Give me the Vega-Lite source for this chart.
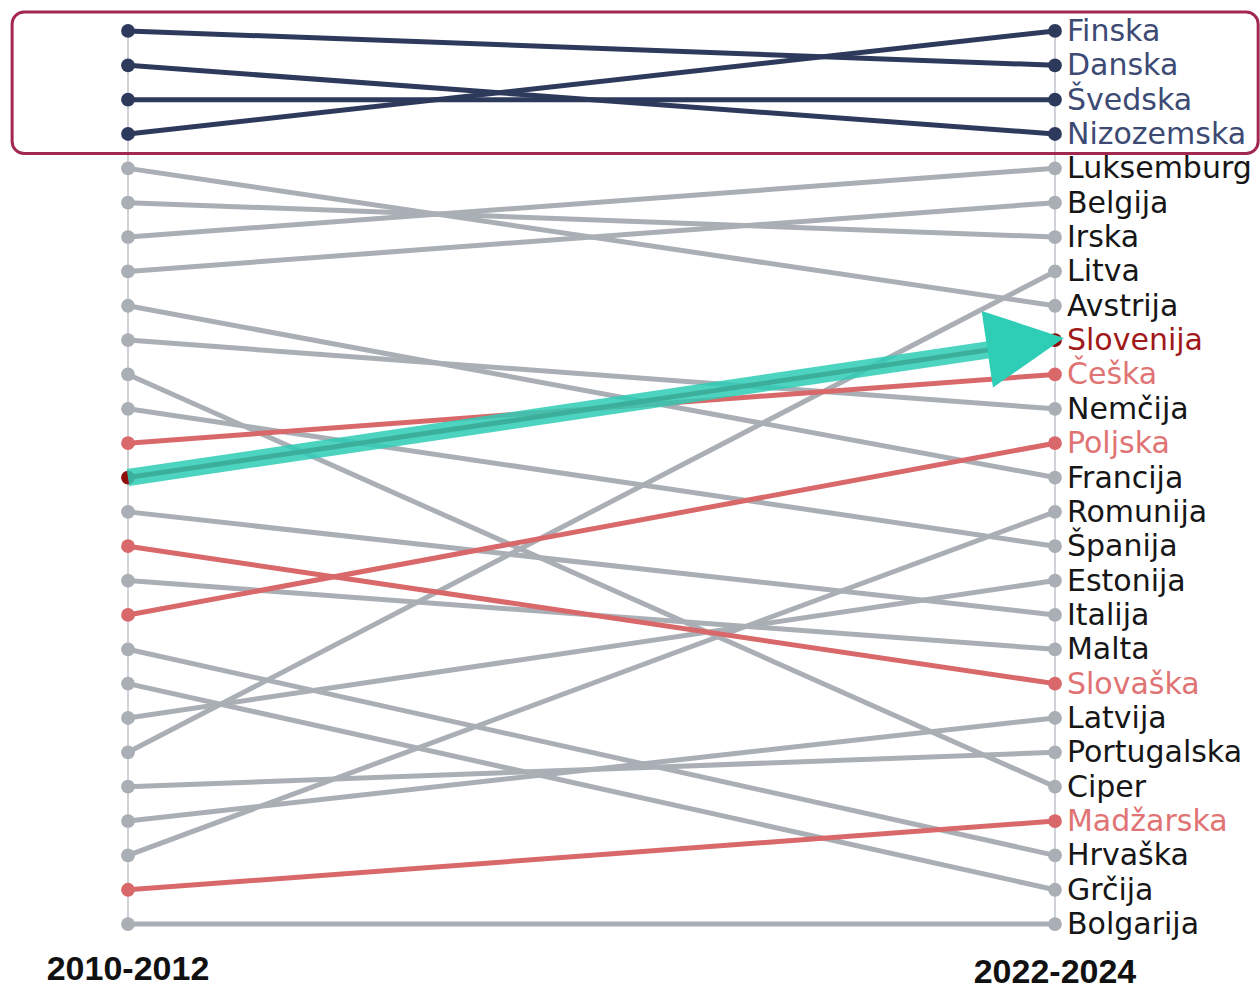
{
  "$schema": "https://vega.github.io/schema/vega-lite/v6.json",
  "width": 1260,
  "height": 990,
  "autosize": {"type": "fit", "contains": "padding"},
  "padding": 0,
  "background": "white",
  "config": {"view": {"stroke": null}},
  "datasets": {
    "ranks": [
      {"country": "Finska", "group": "top", "year": 2011, "rank": 4},
      {"country": "Finska", "group": "top", "year": 2023, "rank": 1},
      {"country": "Danska", "group": "top", "year": 2011, "rank": 1},
      {"country": "Danska", "group": "top", "year": 2023, "rank": 2},
      {"country": "Švedska", "group": "top", "year": 2011, "rank": 3},
      {"country": "Švedska", "group": "top", "year": 2023, "rank": 3},
      {"country": "Nizozemska", "group": "top", "year": 2011, "rank": 2},
      {"country": "Nizozemska", "group": "top", "year": 2023, "rank": 4},
      {"country": "Luksemburg", "group": "other", "year": 2011, "rank": 7},
      {"country": "Luksemburg", "group": "other", "year": 2023, "rank": 5},
      {"country": "Belgija", "group": "other", "year": 2011, "rank": 8},
      {"country": "Belgija", "group": "other", "year": 2023, "rank": 6},
      {"country": "Irska", "group": "other", "year": 2011, "rank": 6},
      {"country": "Irska", "group": "other", "year": 2023, "rank": 7},
      {"country": "Litva", "group": "other", "year": 2011, "rank": 22},
      {"country": "Litva", "group": "other", "year": 2023, "rank": 8},
      {"country": "Avstrija", "group": "other", "year": 2011, "rank": 5},
      {"country": "Avstrija", "group": "other", "year": 2023, "rank": 9},
      {"country": "Nemčija", "group": "other", "year": 2011, "rank": 10},
      {"country": "Nemčija", "group": "other", "year": 2023, "rank": 12},
      {"country": "Francija", "group": "other", "year": 2011, "rank": 9},
      {"country": "Francija", "group": "other", "year": 2023, "rank": 14},
      {"country": "Romunija", "group": "other", "year": 2011, "rank": 25},
      {"country": "Romunija", "group": "other", "year": 2023, "rank": 15},
      {"country": "Španija", "group": "other", "year": 2011, "rank": 12},
      {"country": "Španija", "group": "other", "year": 2023, "rank": 16},
      {"country": "Estonija", "group": "other", "year": 2011, "rank": 21},
      {"country": "Estonija", "group": "other", "year": 2023, "rank": 17},
      {"country": "Italija", "group": "other", "year": 2011, "rank": 15},
      {"country": "Italija", "group": "other", "year": 2023, "rank": 18},
      {"country": "Malta", "group": "other", "year": 2011, "rank": 17},
      {"country": "Malta", "group": "other", "year": 2023, "rank": 19},
      {"country": "Latvija", "group": "other", "year": 2011, "rank": 24},
      {"country": "Latvija", "group": "other", "year": 2023, "rank": 21},
      {"country": "Portugalska", "group": "other", "year": 2011, "rank": 23},
      {"country": "Portugalska", "group": "other", "year": 2023, "rank": 22},
      {"country": "Ciper", "group": "other", "year": 2011, "rank": 11},
      {"country": "Ciper", "group": "other", "year": 2023, "rank": 23},
      {"country": "Hrvaška", "group": "other", "year": 2011, "rank": 19},
      {"country": "Hrvaška", "group": "other", "year": 2023, "rank": 25},
      {"country": "Grčija", "group": "other", "year": 2011, "rank": 20},
      {"country": "Grčija", "group": "other", "year": 2023, "rank": 26},
      {"country": "Bolgarija", "group": "other", "year": 2011, "rank": 27},
      {"country": "Bolgarija", "group": "other", "year": 2023, "rank": 27},
      {"country": "Češka", "group": "peer", "year": 2011, "rank": 13},
      {"country": "Češka", "group": "peer", "year": 2023, "rank": 11},
      {"country": "Poljska", "group": "peer", "year": 2011, "rank": 18},
      {"country": "Poljska", "group": "peer", "year": 2023, "rank": 13},
      {"country": "Slovaška", "group": "peer", "year": 2011, "rank": 16},
      {"country": "Slovaška", "group": "peer", "year": 2023, "rank": 20},
      {"country": "Madžarska", "group": "peer", "year": 2011, "rank": 26},
      {"country": "Madžarska", "group": "peer", "year": 2023, "rank": 24},
      {"country": "Slovenija", "group": "slo", "year": 2011, "rank": 14},
      {"country": "Slovenija", "group": "slo", "year": 2023, "rank": 10}
    ],
    "axes": [
      {"year": 2011, "top": 1, "bottom": 27},
      {"year": 2023, "top": 1, "bottom": 27}
    ],
    "periods": [
      {"year": 2011, "label": "2010-2012", "pos": 28.33},
      {"year": 2023, "label": "2022-2024", "pos": 28.42}
    ],
    "arrow": [
      {"year": 2011, "rank": 14},
      {"year": 2022.3, "rank": 10.23}
    ],
    "arrowhead": [
      {"year": 2022.62, "rank": 10.1}
    ],
    "box": [
      {"x1": 2009.5, "x2": 2025.63, "y1": 0.45, "y2": 4.57}
    ]
  },
  "layer": [
    {
      "data": {"name": "axes"},
      "mark": {"type": "rule", "color": "#cfd2d6", "strokeWidth": 2},
      "encoding": {
        "x": {"field": "year", "type": "quantitative", "scale": {"domain": [2009.343, 2025.654], "nice": false, "zero": false}, "axis": null},
        "y": {"field": "top", "type": "quantitative", "scale": {"domain": [0.0994, 28.86], "reverse": true, "nice": false, "zero": false}, "axis": null},
        "y2": {"field": "bottom"}
      }
    },
    {
      "data": {"name": "ranks"},
      "mark": {"type": "line", "strokeWidth": 5},
      "encoding": {
        "x": {"field": "year", "type": "quantitative"},
        "y": {"field": "rank", "type": "quantitative"},
        "detail": {"field": "country"},
        "color": {"field": "group", "type": "nominal", "scale": {"domain": ["other", "peer", "top", "slo"], "range": ["#a9afb5", "#d9686a", "#2e3a5c", "#8e0d0d"]}, "legend": null}
      }
    },
    {
      "data": {"name": "ranks"},
      "mark": {"type": "point", "filled": true, "size": 190, "opacity": 1},
      "encoding": {
        "x": {"field": "year", "type": "quantitative"},
        "y": {"field": "rank", "type": "quantitative"},
        "color": {"field": "group", "type": "nominal", "legend": null}
      }
    },
    {
      "data": {"name": "box"},
      "mark": {"type": "rect", "fill": null, "stroke": "#a3284f", "strokeWidth": 3, "cornerRadius": 12},
      "encoding": {
        "x": {"field": "x1", "type": "quantitative"},
        "x2": {"field": "x2"},
        "y": {"field": "y1", "type": "quantitative"},
        "y2": {"field": "y2"}
      }
    },
    {
      "data": {"name": "arrow"},
      "mark": {"type": "line", "strokeWidth": 17, "color": "#2ecdb6", "opacity": 0.85, "strokeCap": "butt"},
      "encoding": {
        "x": {"field": "year", "type": "quantitative"},
        "y": {"field": "rank", "type": "quantitative"}
      }
    },
    {
      "data": {"name": "arrowhead"},
      "mark": {"type": "point", "shape": "M-1,-1L1,0L-1,1Z", "filled": true, "size": 6000, "angle": 351.6, "color": "#2ecdb6", "opacity": 1},
      "encoding": {
        "x": {"field": "year", "type": "quantitative"},
        "y": {"field": "rank", "type": "quantitative"}
      }
    },
    {
      "data": {"name": "ranks"},
      "transform": [{"filter": "datum.year == 2023"}],
      "mark": {"type": "text", "align": "left", "baseline": "middle", "dx": 12, "dy": 1, "font": "DejaVu Sans", "fontSize": 30},
      "encoding": {
        "x": {"field": "year", "type": "quantitative"},
        "y": {"field": "rank", "type": "quantitative"},
        "text": {"field": "country"},
        "fill": {"field": "group", "type": "nominal", "scale": {"domain": ["other", "peer", "top", "slo"], "range": ["#161616", "#e07373", "#3c4a74", "#a01818"]}, "legend": null}
      }
    },
    {
      "data": {"name": "periods"},
      "mark": {"type": "text", "align": "center", "baseline": "middle", "font": "Liberation Sans", "fontWeight": "bold", "fontSize": 34, "color": "#111111"},
      "encoding": {
        "x": {"field": "year", "type": "quantitative"},
        "y": {"field": "pos", "type": "quantitative"},
        "text": {"field": "label"}
      }
    }
  ]
}
